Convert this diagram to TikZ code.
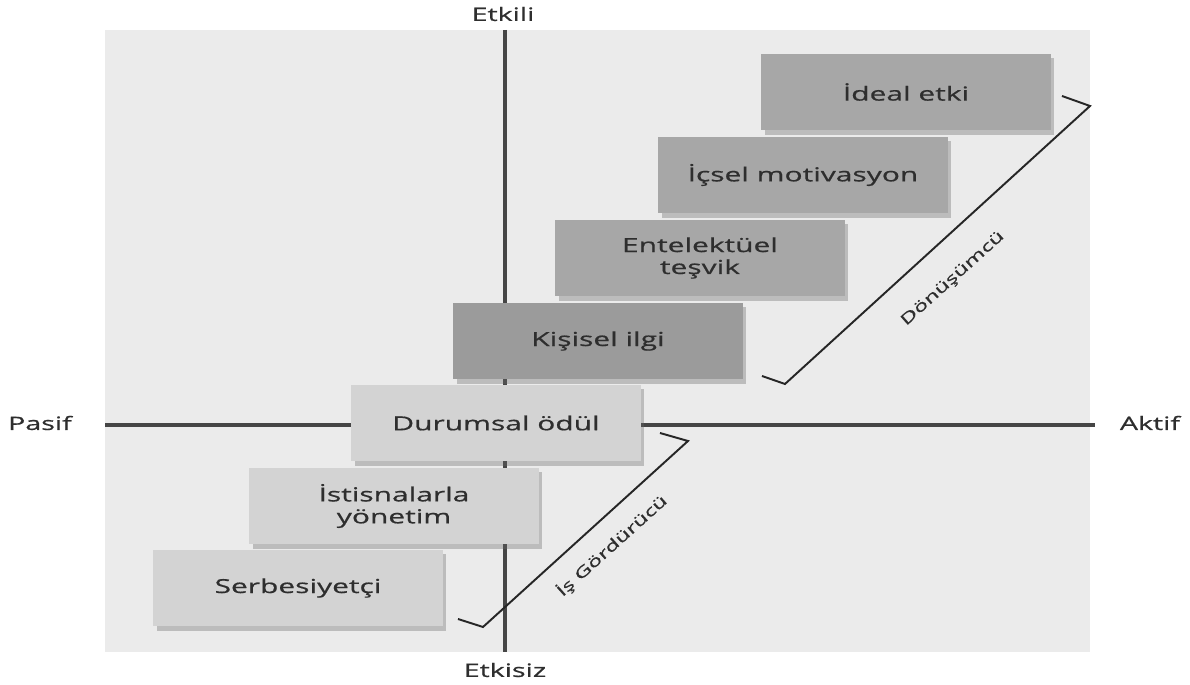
\documentclass[tikz,border=0pt]{standalone}
\usepackage{fontspec}
\usepackage{xcolor}
\usepackage{tikz}
\usetikzlibrary{
	arrows.meta,
	positioning,
	shadows
}
\newfontfamily\diafont[FakeStretch=1.55,FakeBold=0.7]{Open Sans}
\definecolor{bgGray}{HTML}{EBEBEB}
\definecolor{axisGray}{HTML}{454545}
\definecolor{textGray}{HTML}{2E2E2E}
\definecolor{boxDark}{HTML}{A7A7A7}
\definecolor{boxDarker}{HTML}{9B9B9B}
\definecolor{boxLight}{HTML}{D3D3D3}

\begin{document}
\begin{tikzpicture}[
    x=0.02cm, y=-0.02cm,
    stepbox/.style={
        rectangle,
        draw=none,
        minimum width=5.8cm,
        minimum height=1.54cm,
        inner sep=2pt,
        font=\diafont\fontsize{11}{12.5}\selectfont,
        text=textGray,
        align=center,
        drop shadow={shadow xshift=2pt, shadow yshift=-2.5pt, fill=black!60, opacity=.35}
    },
    axis_line/.style={
        draw=axisGray,
        line width=2.3pt
    },
    axis_label/.style={
        font=\diafont\fontsize{10.5}{12}\selectfont,
        text=textGray,
        inner sep=1pt
    },
    bracket/.style={
        draw=black!85,
        line width=1.1pt,
        line join=miter
    },
    group_label/.style={
        font=\diafont\fontsize{8.6}{10}\selectfont,
        text=textGray,
        rotate=42,
        inner sep=1pt
    }
]

    \useasboundingbox (0,0) rectangle (1190,685);

    % ====== 背景与坐标轴 ======
    \fill[bgGray] (105,30) rectangle (1090,652);
    \draw[axis_line] (505,30) -- (505,652);
    \draw[axis_line] (105,425) -- (1095,425);

    % 轴标签
    \node[axis_label] (etkili) at (503,14) {Etkili};
    \node[axis_label] (etkisiz) at (505,670) {Etkisiz};
    \node[axis_label] (pasif) at (40,423) {Pasif};
    \node[axis_label] (aktif) at (1150,423) {Aktif};

    % ====== 阶梯方框（上：深灰）======
    \node[stepbox, fill=boxDark] (ideal) at (906,92) {İdeal etki};
    \node[stepbox, fill=boxDark] (icsel) at (803,175) {İçsel motivasyon};
    \node[stepbox, fill=boxDark] (entel) at (700,258) {Entelektüel\\teşvik};
    \node[stepbox, fill=boxDarker] (kisisel) at (598,341) {Kişisel ilgi};

    % ====== 阶梯方框（下：浅灰）======
    \node[stepbox, fill=boxLight] (durumsal) at (496,423) {Durumsal ödül};
    \node[stepbox, fill=boxLight] (istisna) at (394,506) {İstisnalarla\\yönetim};
    \node[stepbox, fill=boxLight] (serbest) at (298,588) {Serbesiyetçi};

    % ====== 括号与组标签 ======
    \coordinate (don_a) at (762,376);
    \coordinate (don_b) at (785,384);
    \coordinate (don_c) at (1090,106);
    \coordinate (don_d) at (1062,96);
    \draw[bracket] (don_a) -- (don_b) -- (don_c) -- (don_d);
    \node[group_label] (donusumcu) at (953,279) {Dönüşümcü};

    \coordinate (is_a) at (458,619);
    \coordinate (is_b) at (483,627);
    \coordinate (is_c) at (688,441);
    \coordinate (is_d) at (660,433);
    \draw[bracket] (is_a) -- (is_b) -- (is_c) -- (is_d);
    \node[group_label] (isgorduru) at (612,546) {İş Gördürücü};

\end{tikzpicture}
\end{document}
